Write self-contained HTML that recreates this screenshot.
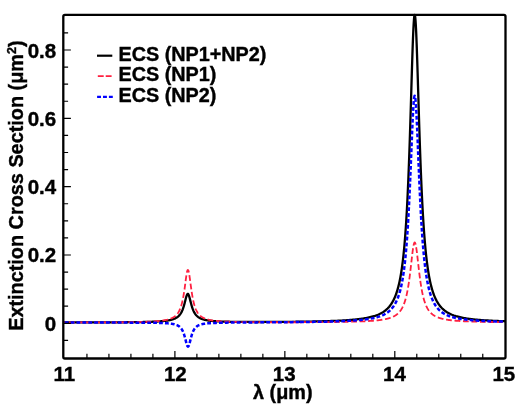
<!DOCTYPE html>
<html><head><meta charset="utf-8"><style>
html,body{margin:0;padding:0;background:#fff;width:519px;height:410px;overflow:hidden}
svg{display:block}
</style></head><body>
<svg width="519" height="410" viewBox="0 0 519 410">
<rect width="519" height="410" fill="#fff"/>
<g fill="none" stroke-linejoin="round">
<path d="M63.30,322.47 L64.30,322.47 L65.30,322.46 L66.30,322.46 L67.30,322.46 L68.30,322.46 L69.30,322.46 L70.30,322.46 L71.30,322.45 L72.30,322.45 L73.30,322.45 L74.30,322.45 L75.30,322.45 L76.30,322.45 L77.30,322.44 L78.30,322.44 L79.30,322.44 L80.30,322.44 L81.30,322.44 L82.30,322.43 L83.30,322.43 L84.30,322.43 L85.30,322.43 L86.30,322.42 L87.30,322.42 L88.30,322.42 L89.30,322.42 L90.30,322.41 L91.30,322.41 L92.30,322.41 L93.30,322.41 L94.30,322.40 L95.30,322.40 L96.30,322.40 L97.30,322.39 L98.30,322.39 L99.30,322.39 L100.30,322.38 L101.30,322.38 L102.30,322.38 L103.30,322.37 L104.30,322.37 L105.30,322.37 L106.30,322.36 L107.30,322.36 L108.30,322.35 L109.30,322.35 L110.30,322.34 L111.30,322.34 L112.30,322.33 L113.30,322.33 L114.30,322.32 L115.30,322.32 L116.30,322.31 L117.30,322.31 L118.30,322.30 L119.30,322.29 L120.30,322.29 L121.30,322.28 L122.30,322.27 L123.30,322.27 L124.30,322.26 L125.30,322.25 L126.30,322.24 L127.30,322.23 L128.30,322.22 L129.30,322.21 L130.30,322.20 L131.30,322.19 L132.30,322.18 L133.30,322.17 L134.30,322.16 L135.30,322.14 L136.30,322.13 L137.30,322.12 L138.30,322.10 L139.30,322.09 L140.30,322.07 L141.30,322.05 L142.30,322.03 L143.30,322.01 L144.30,321.99 L145.30,321.97 L146.30,321.94 L147.30,321.92 L148.30,321.89 L149.30,321.86 L150.30,321.83 L151.30,321.80 L152.30,321.76 L153.30,321.72 L154.30,321.68 L155.30,321.63 L156.30,321.58 L157.30,321.53 L158.30,321.47 L159.30,321.40 L160.30,321.33 L161.30,321.26 L162.30,321.17 L163.30,321.07 L164.30,320.97 L165.00,320.89 L165.25,320.86 L165.50,320.83 L165.75,320.80 L166.00,320.76 L166.25,320.73 L166.50,320.70 L166.75,320.66 L167.00,320.62 L167.25,320.58 L167.50,320.55 L167.75,320.51 L168.00,320.46 L168.25,320.42 L168.50,320.38 L168.75,320.33 L169.00,320.28 L169.25,320.24 L169.50,320.19 L169.75,320.13 L170.00,320.08 L170.25,320.02 L170.50,319.97 L170.75,319.91 L171.00,319.85 L171.25,319.78 L171.50,319.72 L171.75,319.65 L172.00,319.58 L172.25,319.50 L172.50,319.43 L172.75,319.35 L173.00,319.27 L173.25,319.18 L173.50,319.09 L173.75,319.00 L174.00,318.90 L174.25,318.80 L174.50,318.70 L174.75,318.59 L175.00,318.47 L175.25,318.36 L175.50,318.23 L175.75,318.10 L176.00,317.96 L176.25,317.82 L176.50,317.67 L176.75,317.51 L177.00,317.35 L177.25,317.18 L177.50,316.99 L177.75,316.80 L178.00,316.60 L178.25,316.39 L178.50,316.16 L178.75,315.92 L179.00,315.67 L179.25,315.40 L179.50,315.12 L179.75,314.82 L180.00,314.50 L180.25,314.17 L180.50,313.81 L180.75,313.42 L181.00,313.02 L181.25,312.58 L181.50,312.12 L181.75,311.63 L182.00,311.11 L182.25,310.55 L182.50,309.95 L182.75,309.32 L183.00,308.64 L183.25,307.92 L183.50,307.16 L183.75,306.36 L184.00,305.51 L184.25,304.62 L184.50,303.70 L184.75,302.74 L185.00,301.76 L185.25,300.76 L185.50,299.76 L185.75,298.78 L186.00,297.82 L186.25,296.92 L186.50,296.09 L186.75,295.37 L187.00,294.77 L187.25,294.31 L187.50,294.01 L187.75,293.89 L187.80,293.88 L188.00,293.94 L188.25,294.17 L188.50,294.56 L188.75,295.11 L189.00,295.79 L189.25,296.57 L189.50,297.45 L189.75,298.38 L190.00,299.36 L190.25,300.35 L190.50,301.35 L190.75,302.34 L191.00,303.31 L191.25,304.25 L191.50,305.15 L191.75,306.01 L192.00,306.83 L192.25,307.61 L192.50,308.34 L192.75,309.03 L193.00,309.68 L193.25,310.29 L193.50,310.87 L193.75,311.40 L194.00,311.91 L194.25,312.38 L194.50,312.82 L194.75,313.24 L195.00,313.63 L195.25,314.00 L195.50,314.34 L195.75,314.67 L196.00,314.97 L196.25,315.26 L196.50,315.53 L196.75,315.79 L197.00,316.03 L197.25,316.26 L197.50,316.48 L197.75,316.68 L198.00,316.88 L198.25,317.06 L198.50,317.24 L198.75,317.41 L199.00,317.57 L199.25,317.72 L199.50,317.86 L199.75,318.00 L200.00,318.13 L200.25,318.26 L200.50,318.38 L200.75,318.50 L201.00,318.61 L201.25,318.71 L201.50,318.81 L201.75,318.91 L202.00,319.00 L202.25,319.09 L202.50,319.18 L202.75,319.26 L203.00,319.34 L203.25,319.42 L203.50,319.49 L203.75,319.56 L204.00,319.63 L204.25,319.70 L204.50,319.76 L204.75,319.82 L205.00,319.88 L205.25,319.94 L205.50,319.99 L205.75,320.04 L206.00,320.10 L206.25,320.15 L206.50,320.19 L206.75,320.24 L207.00,320.29 L207.25,320.33 L207.50,320.37 L207.75,320.41 L208.00,320.45 L208.25,320.49 L208.50,320.53 L208.75,320.57 L209.00,320.60 L209.25,320.63 L209.50,320.67 L209.75,320.70 L210.00,320.73 L210.25,320.76 L210.50,320.79 L210.75,320.82 L211.00,320.85 L211.25,320.88 L211.50,320.90 L211.75,320.93 L212.00,320.95 L213.00,321.05 L214.00,321.13 L215.00,321.21 L216.00,321.27 L217.00,321.34 L218.00,321.39 L219.00,321.44 L220.00,321.49 L221.00,321.53 L222.00,321.57 L223.00,321.61 L224.00,321.64 L225.00,321.67 L226.00,321.70 L227.00,321.73 L228.00,321.75 L229.00,321.77 L230.00,321.79 L231.00,321.81 L232.00,321.83 L233.00,321.84 L234.00,321.86 L235.00,321.87 L236.00,321.88 L237.00,321.89 L238.00,321.91 L239.00,321.91 L240.00,321.92 L241.00,321.93 L242.00,321.94 L243.00,321.95 L244.00,321.95 L245.00,321.96 L246.00,321.96 L247.00,321.97 L248.00,321.97 L249.00,321.97 L250.00,321.98 L251.00,321.98 L252.00,321.98 L253.00,321.98 L254.00,321.98 L255.00,321.98 L256.00,321.98 L257.00,321.98 L258.00,321.98 L259.00,321.98 L260.00,321.98 L261.00,321.98 L262.00,321.98 L263.00,321.98 L264.00,321.98 L265.00,321.97 L266.00,321.97 L267.00,321.97 L268.00,321.97 L269.00,321.96 L270.00,321.96 L271.00,321.95 L272.00,321.95 L273.00,321.95 L274.00,321.94 L275.00,321.94 L276.00,321.93 L277.00,321.93 L278.00,321.92 L279.00,321.91 L280.00,321.91 L281.00,321.90 L282.00,321.89 L283.00,321.89 L284.00,321.88 L285.00,321.87 L286.00,321.86 L287.00,321.85 L288.00,321.85 L289.00,321.84 L290.00,321.83 L291.00,321.82 L292.00,321.81 L293.00,321.80 L294.00,321.79 L295.00,321.78 L296.00,321.76 L297.00,321.75 L298.00,321.74 L299.00,321.73 L300.00,321.72 L301.00,321.70 L302.00,321.69 L303.00,321.67 L304.00,321.66 L305.00,321.65 L306.00,321.63 L307.00,321.61 L308.00,321.60 L309.00,321.58 L310.00,321.56 L311.00,321.54 L312.00,321.53 L313.00,321.51 L314.00,321.49 L315.00,321.47 L316.00,321.44 L317.00,321.42 L318.00,321.40 L319.00,321.38 L320.00,321.35 L321.00,321.33 L322.00,321.30 L323.00,321.27 L324.00,321.25 L325.00,321.22 L326.00,321.19 L327.00,321.16 L328.00,321.13 L329.00,321.09 L330.00,321.06 L331.00,321.02 L332.00,320.99 L333.00,320.95 L334.00,320.91 L335.00,320.87 L336.00,320.82 L337.00,320.78 L338.00,320.73 L339.00,320.69 L340.00,320.64 L341.00,320.58 L342.00,320.53 L343.00,320.47 L344.00,320.41 L345.00,320.35 L346.00,320.29 L347.00,320.22 L348.00,320.15 L349.00,320.08 L350.00,320.00 L351.00,319.92 L352.00,319.83 L353.00,319.75 L354.00,319.65 L355.00,319.56 L356.00,319.45 L357.00,319.35 L358.00,319.23 L359.00,319.11 L360.00,318.99 L361.00,318.85 L362.00,318.71 L363.00,318.56 L364.00,318.40 L365.00,318.24 L366.00,318.06 L367.00,317.87 L368.00,317.67 L369.00,317.46 L370.00,317.23 L371.00,316.99 L372.00,316.73 L373.00,316.45 L374.00,316.15 L375.00,315.83 L376.00,315.48 L377.00,315.11 L378.00,314.71 L379.00,314.27 L380.00,313.80 L381.00,313.29 L382.00,312.73 L383.00,312.12 L384.00,311.45 L385.00,310.72 L385.20,310.56 L385.40,310.40 L385.60,310.24 L385.80,310.08 L386.00,309.91 L386.20,309.74 L386.40,309.56 L386.60,309.39 L386.80,309.20 L387.00,309.02 L387.20,308.83 L387.40,308.64 L387.60,308.44 L387.80,308.24 L388.00,308.03 L388.20,307.82 L388.40,307.61 L388.60,307.39 L388.80,307.16 L389.00,306.94 L389.20,306.70 L389.40,306.46 L389.60,306.22 L389.80,305.97 L390.00,305.71 L390.20,305.45 L390.40,305.18 L390.60,304.91 L390.80,304.63 L391.00,304.34 L391.20,304.05 L391.40,303.75 L391.60,303.44 L391.80,303.13 L392.00,302.81 L392.20,302.48 L392.40,302.14 L392.60,301.79 L392.80,301.44 L393.00,301.07 L393.20,300.70 L393.40,300.32 L393.60,299.92 L393.80,299.52 L394.00,299.11 L394.20,298.68 L394.40,298.25 L394.60,297.80 L394.80,297.34 L395.00,296.87 L395.20,296.38 L395.40,295.88 L395.60,295.37 L395.80,294.84 L396.00,294.30 L396.20,293.74 L396.40,293.17 L396.60,292.58 L396.80,291.97 L397.00,291.35 L397.20,290.70 L397.40,290.04 L397.60,289.36 L397.80,288.65 L398.00,287.93 L398.20,287.18 L398.40,286.41 L398.60,285.61 L398.80,284.79 L399.00,283.94 L399.20,283.07 L399.40,282.16 L399.60,281.23 L399.80,280.27 L400.00,279.27 L400.20,278.24 L400.40,277.17 L400.60,276.07 L400.80,274.93 L401.00,273.75 L401.20,272.53 L401.40,271.27 L401.60,269.96 L401.80,268.60 L402.00,267.20 L402.20,265.74 L402.40,264.23 L402.60,262.67 L402.80,261.04 L403.00,259.35 L403.20,257.60 L403.40,255.79 L403.60,253.90 L403.80,251.94 L404.00,249.90 L404.20,247.79 L404.40,245.59 L404.60,243.30 L404.80,240.92 L405.00,238.45 L405.20,235.88 L405.40,233.20 L405.60,230.42 L405.80,227.53 L406.00,224.51 L406.20,221.38 L406.40,218.12 L406.60,214.73 L406.80,211.20 L407.00,207.53 L407.20,203.71 L407.40,199.74 L407.60,195.62 L407.80,191.34 L408.00,186.89 L408.20,182.28 L408.40,177.49 L408.60,172.54 L408.80,167.41 L409.00,162.10 L409.20,156.63 L409.40,150.98 L409.60,145.17 L409.80,139.20 L410.00,133.07 L410.20,126.81 L410.40,120.41 L410.60,113.91 L410.80,107.31 L411.00,100.64 L411.20,93.94 L411.40,87.22 L411.60,80.53 L411.80,73.90 L412.00,67.37 L412.20,61.00 L412.40,54.83 L412.60,48.91 L412.80,43.30 L413.00,38.05 L413.20,33.21 L413.40,28.84 L413.60,24.99 L413.80,21.70 L414.00,19.02 L414.20,16.97 L414.40,15.60 L414.60,14.90 L414.70,14.82 L414.80,14.90 L415.00,15.57 L415.20,16.90 L415.40,18.88 L415.60,21.48 L415.80,24.67 L416.00,28.40 L416.20,32.64 L416.40,37.34 L416.60,42.45 L416.80,47.91 L417.00,53.68 L417.20,59.71 L417.40,65.94 L417.60,72.32 L417.80,78.82 L418.00,85.39 L418.20,92.00 L418.40,98.60 L418.60,105.17 L418.80,111.68 L419.00,118.11 L419.20,124.44 L419.40,130.66 L419.60,136.74 L419.80,142.67 L420.00,148.46 L420.20,154.09 L420.40,159.55 L420.60,164.85 L420.80,169.98 L421.00,174.94 L421.20,179.73 L421.40,184.36 L421.60,188.82 L421.80,193.13 L422.00,197.28 L422.20,201.27 L422.40,205.12 L422.60,208.82 L422.80,212.38 L423.00,215.81 L423.20,219.11 L423.40,222.28 L423.60,225.33 L423.80,228.26 L424.00,231.08 L424.20,233.79 L424.40,236.40 L424.60,238.91 L424.80,241.33 L425.00,243.65 L425.20,245.89 L425.40,248.04 L425.60,250.11 L425.80,252.11 L426.00,254.03 L426.20,255.88 L426.40,257.67 L426.60,259.39 L426.80,261.04 L427.00,262.64 L427.20,264.18 L427.40,265.67 L427.60,267.11 L427.80,268.49 L428.00,269.83 L428.20,271.12 L428.40,272.37 L428.60,273.58 L428.80,274.75 L429.00,275.87 L429.20,276.96 L429.40,278.02 L429.60,279.04 L429.80,280.03 L430.00,280.98 L430.20,281.91 L430.40,282.81 L430.60,283.68 L430.80,284.52 L431.00,285.33 L431.20,286.13 L431.40,286.89 L431.60,287.64 L431.80,288.36 L432.00,289.06 L432.20,289.74 L432.40,290.40 L432.60,291.05 L432.80,291.67 L433.00,292.28 L433.20,292.86 L433.40,293.44 L433.60,293.99 L433.80,294.54 L434.00,295.06 L434.20,295.58 L434.40,296.07 L434.60,296.56 L434.80,297.03 L435.00,297.49 L435.20,297.94 L435.40,298.38 L435.60,298.80 L435.80,299.22 L436.00,299.62 L436.20,300.02 L436.40,300.40 L436.60,300.78 L436.80,301.14 L437.00,301.50 L437.20,301.85 L437.40,302.19 L437.60,302.52 L437.80,302.84 L438.00,303.16 L438.20,303.47 L438.40,303.77 L438.60,304.07 L438.80,304.36 L439.00,304.64 L439.20,304.91 L439.40,305.18 L439.60,305.44 L439.80,305.70 L440.00,305.95 L440.20,306.20 L440.40,306.44 L440.60,306.68 L440.80,306.91 L441.00,307.13 L441.20,307.35 L441.40,307.57 L441.60,307.78 L441.80,307.99 L442.00,308.19 L442.20,308.39 L442.40,308.59 L442.60,308.78 L442.80,308.97 L443.00,309.15 L443.20,309.33 L443.40,309.51 L443.60,309.68 L443.80,309.85 L444.00,310.02 L444.20,310.18 L444.40,310.34 L444.60,310.50 L444.80,310.65 L445.00,310.80 L446.00,311.52 L447.00,312.17 L448.00,312.77 L449.00,313.32 L450.00,313.82 L451.00,314.28 L452.00,314.71 L453.00,315.11 L454.00,315.48 L455.00,315.82 L456.00,316.14 L457.00,316.43 L458.00,316.71 L459.00,316.97 L460.00,317.21 L461.00,317.44 L462.00,317.65 L463.00,317.85 L464.00,318.04 L465.00,318.22 L466.00,318.38 L467.00,318.54 L468.00,318.69 L469.00,318.83 L470.00,318.96 L471.00,319.09 L472.00,319.21 L473.00,319.33 L474.00,319.43 L475.00,319.54 L476.00,319.64 L477.00,319.73 L478.00,319.82 L479.00,319.90 L480.00,319.99 L481.00,320.06 L482.00,320.14 L483.00,320.21 L484.00,320.28 L485.00,320.34 L486.00,320.41 L487.00,320.47 L488.00,320.52 L489.00,320.58 L490.00,320.63 L491.00,320.68 L492.00,320.73 L493.00,320.78 L494.00,320.83 L495.00,320.87 L496.00,320.91 L497.00,320.95 L498.00,320.99 L499.00,321.03 L500.00,321.07 L501.00,321.10 L502.00,321.14 L503.00,321.17 L504.00,321.20 L505.00,321.23 L505.50,321.25" stroke="#000" stroke-width="2.3"/>
<path d="M63.30,322.50 L64.30,322.50 L65.30,322.49 L66.30,322.49 L67.30,322.49 L68.30,322.49 L69.30,322.49 L70.30,322.49 L71.30,322.48 L72.30,322.48 L73.30,322.48 L74.30,322.48 L75.30,322.48 L76.30,322.47 L77.30,322.47 L78.30,322.47 L79.30,322.47 L80.30,322.46 L81.30,322.46 L82.30,322.46 L83.30,322.46 L84.30,322.45 L85.30,322.45 L86.30,322.45 L87.30,322.45 L88.30,322.44 L89.30,322.44 L90.30,322.44 L91.30,322.43 L92.30,322.43 L93.30,322.43 L94.30,322.42 L95.30,322.42 L96.30,322.42 L97.30,322.41 L98.30,322.41 L99.30,322.40 L100.30,322.40 L101.30,322.40 L102.30,322.39 L103.30,322.39 L104.30,322.38 L105.30,322.38 L106.30,322.37 L107.30,322.37 L108.30,322.36 L109.30,322.36 L110.30,322.35 L111.30,322.34 L112.30,322.34 L113.30,322.33 L114.30,322.32 L115.30,322.32 L116.30,322.31 L117.30,322.30 L118.30,322.29 L119.30,322.28 L120.30,322.28 L121.30,322.27 L122.30,322.26 L123.30,322.25 L124.30,322.24 L125.30,322.22 L126.30,322.21 L127.30,322.20 L128.30,322.19 L129.30,322.18 L130.30,322.16 L131.30,322.15 L132.30,322.13 L133.30,322.12 L134.30,322.10 L135.30,322.08 L136.30,322.06 L137.30,322.04 L138.30,322.02 L139.30,322.00 L140.30,321.97 L141.30,321.95 L142.30,321.92 L143.30,321.89 L144.30,321.86 L145.30,321.83 L146.30,321.79 L147.30,321.76 L148.30,321.72 L149.30,321.67 L150.30,321.63 L151.30,321.58 L152.30,321.52 L153.30,321.47 L154.30,321.40 L155.30,321.33 L156.30,321.26 L157.30,321.18 L158.30,321.09 L159.30,320.99 L160.30,320.88 L161.30,320.76 L162.30,320.63 L163.30,320.48 L164.30,320.32 L165.00,320.19 L165.25,320.14 L165.50,320.10 L165.75,320.05 L166.00,319.99 L166.25,319.94 L166.50,319.88 L166.75,319.83 L167.00,319.77 L167.25,319.71 L167.50,319.64 L167.75,319.58 L168.00,319.51 L168.25,319.44 L168.50,319.37 L168.75,319.30 L169.00,319.22 L169.25,319.14 L169.50,319.06 L169.75,318.98 L170.00,318.89 L170.25,318.80 L170.50,318.70 L170.75,318.61 L171.00,318.51 L171.25,318.40 L171.50,318.29 L171.75,318.18 L172.00,318.06 L172.25,317.94 L172.50,317.81 L172.75,317.68 L173.00,317.54 L173.25,317.39 L173.50,317.24 L173.75,317.09 L174.00,316.92 L174.25,316.75 L174.50,316.57 L174.75,316.38 L175.00,316.19 L175.25,315.98 L175.50,315.77 L175.75,315.54 L176.00,315.30 L176.25,315.06 L176.50,314.79 L176.75,314.52 L177.00,314.23 L177.25,313.92 L177.50,313.60 L177.75,313.26 L178.00,312.90 L178.25,312.53 L178.50,312.12 L178.75,311.70 L179.00,311.25 L179.25,310.77 L179.50,310.27 L179.75,309.73 L180.00,309.15 L180.25,308.54 L180.50,307.90 L180.75,307.20 L181.00,306.47 L181.25,305.68 L181.50,304.84 L181.75,303.94 L182.00,302.98 L182.25,301.96 L182.50,300.86 L182.75,299.70 L183.00,298.46 L183.25,297.13 L183.50,295.73 L183.75,294.24 L184.00,292.68 L184.25,291.03 L184.50,289.30 L184.75,287.51 L185.00,285.66 L185.25,283.78 L185.50,281.88 L185.75,279.99 L186.00,278.14 L186.25,276.38 L186.50,274.75 L186.75,273.29 L187.00,272.04 L187.25,271.06 L187.50,270.37 L187.75,270.00 L187.80,269.97 L188.00,269.96 L188.25,270.27 L188.50,270.90 L188.75,271.82 L189.00,273.02 L189.25,274.44 L189.50,276.04 L189.75,277.78 L190.00,279.61 L190.25,281.49 L190.50,283.39 L190.75,285.28 L191.00,287.14 L191.25,288.94 L191.50,290.68 L191.75,292.35 L192.00,293.93 L192.25,295.44 L192.50,296.85 L192.75,298.19 L193.00,299.45 L193.25,300.63 L193.50,301.74 L193.75,302.77 L194.00,303.74 L194.25,304.65 L194.50,305.51 L194.75,306.30 L195.00,307.05 L195.25,307.75 L195.50,308.41 L195.75,309.03 L196.00,309.61 L196.25,310.15 L196.50,310.66 L196.75,311.15 L197.00,311.60 L197.25,312.03 L197.50,312.44 L197.75,312.82 L198.00,313.18 L198.25,313.52 L198.50,313.85 L198.75,314.16 L199.00,314.45 L199.25,314.73 L199.50,314.99 L199.75,315.24 L200.00,315.48 L200.25,315.71 L200.50,315.92 L200.75,316.13 L201.00,316.33 L201.25,316.52 L201.50,316.70 L201.75,316.87 L202.00,317.04 L202.25,317.19 L202.50,317.34 L202.75,317.49 L203.00,317.63 L203.25,317.76 L203.50,317.89 L203.75,318.01 L204.00,318.13 L204.25,318.25 L204.50,318.36 L204.75,318.46 L205.00,318.57 L205.25,318.66 L205.50,318.76 L205.75,318.85 L206.00,318.94 L206.25,319.02 L206.50,319.10 L206.75,319.18 L207.00,319.26 L207.25,319.33 L207.50,319.40 L207.75,319.47 L208.00,319.54 L208.25,319.61 L208.50,319.67 L208.75,319.73 L209.00,319.79 L209.25,319.85 L209.50,319.90 L209.75,319.95 L210.00,320.01 L210.25,320.06 L210.50,320.11 L210.75,320.15 L211.00,320.20 L211.25,320.24 L211.50,320.29 L211.75,320.33 L212.00,320.37 L213.00,320.53 L214.00,320.66 L215.00,320.79 L216.00,320.90 L217.00,321.00 L218.00,321.09 L219.00,321.18 L220.00,321.25 L221.00,321.32 L222.00,321.39 L223.00,321.45 L224.00,321.50 L225.00,321.55 L226.00,321.60 L227.00,321.64 L228.00,321.68 L229.00,321.72 L230.00,321.76 L231.00,321.79 L232.00,321.82 L233.00,321.85 L234.00,321.87 L235.00,321.90 L236.00,321.92 L237.00,321.94 L238.00,321.96 L239.00,321.98 L240.00,322.00 L241.00,322.01 L242.00,322.03 L243.00,322.05 L244.00,322.06 L245.00,322.07 L246.00,322.08 L247.00,322.10 L248.00,322.11 L249.00,322.12 L250.00,322.13 L251.00,322.14 L252.00,322.15 L253.00,322.15 L254.00,322.16 L255.00,322.17 L256.00,322.18 L257.00,322.18 L258.00,322.19 L259.00,322.19 L260.00,322.20 L261.00,322.20 L262.00,322.21 L263.00,322.21 L264.00,322.22 L265.00,322.22 L266.00,322.23 L267.00,322.23 L268.00,322.23 L269.00,322.23 L270.00,322.24 L271.00,322.24 L272.00,322.24 L273.00,322.24 L274.00,322.25 L275.00,322.25 L276.00,322.25 L277.00,322.25 L278.00,322.25 L279.00,322.25 L280.00,322.25 L281.00,322.25 L282.00,322.25 L283.00,322.25 L284.00,322.25 L285.00,322.25 L286.00,322.25 L287.00,322.25 L288.00,322.25 L289.00,322.25 L290.00,322.25 L291.00,322.25 L292.00,322.25 L293.00,322.25 L294.00,322.24 L295.00,322.24 L296.00,322.24 L297.00,322.24 L298.00,322.24 L299.00,322.23 L300.00,322.23" stroke="#ff2040" stroke-width="1.8" stroke-dasharray="5.8 2.7" stroke-dashoffset="2.90"/>
<path d="M300.00,322.23 L301.00,322.23 L302.00,322.22 L303.00,322.22 L304.00,322.22 L305.00,322.21 L306.00,322.21 L307.00,322.21 L308.00,322.20 L309.00,322.20 L310.00,322.19 L311.00,322.19 L312.00,322.18 L313.00,322.18 L314.00,322.17 L315.00,322.17 L316.00,322.16 L317.00,322.16 L318.00,322.15 L319.00,322.14 L320.00,322.14 L321.00,322.13 L322.00,322.12 L323.00,322.12 L324.00,322.11 L325.00,322.10 L326.00,322.09 L327.00,322.08 L328.00,322.07 L329.00,322.06 L330.00,322.05 L331.00,322.04 L332.00,322.03 L333.00,322.02 L334.00,322.01 L335.00,322.00 L336.00,321.98 L337.00,321.97 L338.00,321.96 L339.00,321.94 L340.00,321.93 L341.00,321.91 L342.00,321.90 L343.00,321.88 L344.00,321.86 L345.00,321.85 L346.00,321.83 L347.00,321.81 L348.00,321.79 L349.00,321.76 L350.00,321.74 L351.00,321.72 L352.00,321.69 L353.00,321.67 L354.00,321.64 L355.00,321.61 L356.00,321.58 L357.00,321.55 L358.00,321.52 L359.00,321.49 L360.00,321.45 L361.00,321.41 L362.00,321.37 L363.00,321.33 L364.00,321.28 L365.00,321.24 L366.00,321.19 L367.00,321.13 L368.00,321.08 L369.00,321.02 L370.00,320.96 L371.00,320.89 L372.00,320.82 L373.00,320.74 L374.00,320.66 L375.00,320.57 L376.00,320.48 L377.00,320.38 L378.00,320.27 L379.00,320.16 L380.00,320.03 L381.00,319.90 L382.00,319.75 L383.00,319.59 L384.00,319.41 L385.00,319.22 L385.20,319.18 L385.40,319.14 L385.60,319.10 L385.80,319.06 L386.00,319.01 L386.20,318.97 L386.40,318.92 L386.60,318.88 L386.80,318.83 L387.00,318.78 L387.20,318.74 L387.40,318.69 L387.60,318.64 L387.80,318.58 L388.00,318.53 L388.20,318.48 L388.40,318.42 L388.60,318.37 L388.80,318.31 L389.00,318.25 L389.20,318.19 L389.40,318.13 L389.60,318.07 L389.80,318.00 L390.00,317.94 L390.20,317.87 L390.40,317.80 L390.60,317.73 L390.80,317.66 L391.00,317.59 L391.20,317.52 L391.40,317.44 L391.60,317.36 L391.80,317.28 L392.00,317.20 L392.20,317.12 L392.40,317.03 L392.60,316.94 L392.80,316.85 L393.00,316.76 L393.20,316.67 L393.40,316.57 L393.60,316.47 L393.80,316.37 L394.00,316.26 L394.20,316.16 L394.40,316.05 L394.60,315.93 L394.80,315.82 L395.00,315.70 L395.20,315.58 L395.40,315.45 L395.60,315.32 L395.80,315.19 L396.00,315.05 L396.20,314.91 L396.40,314.77 L396.60,314.62 L396.80,314.47 L397.00,314.31 L397.20,314.15 L397.40,313.98 L397.60,313.81 L397.80,313.64 L398.00,313.45 L398.20,313.27 L398.40,313.07 L398.60,312.87 L398.80,312.67 L399.00,312.46 L399.20,312.24 L399.40,312.01 L399.60,311.78 L399.80,311.54 L400.00,311.29 L400.20,311.03 L400.40,310.76 L400.60,310.48 L400.80,310.20 L401.00,309.90 L401.20,309.60 L401.40,309.28 L401.60,308.95 L401.80,308.61 L402.00,308.26 L402.20,307.89 L402.40,307.52 L402.60,307.12 L402.80,306.71 L403.00,306.29 L403.20,305.85 L403.40,305.39 L403.60,304.92 L403.80,304.43 L404.00,303.91 L404.20,303.38 L404.40,302.83 L404.60,302.25 L404.80,301.65 L405.00,301.03 L405.20,300.38 L405.40,299.70 L405.60,298.99 L405.80,298.26 L406.00,297.50 L406.20,296.70 L406.40,295.87 L406.60,295.01 L406.80,294.11 L407.00,293.18 L407.20,292.21 L407.40,291.19 L407.60,290.14 L407.80,289.04 L408.00,287.90 L408.20,286.72 L408.40,285.49 L408.60,284.21 L408.80,282.89 L409.00,281.52 L409.20,280.10 L409.40,278.64 L409.60,277.13 L409.80,275.57 L410.00,273.97 L410.20,272.34 L410.40,270.66 L410.60,268.95 L410.80,267.22 L411.00,265.46 L411.20,263.69 L411.40,261.91 L411.60,260.14 L411.80,258.37 L412.00,256.63 L412.20,254.93 L412.40,253.28 L412.60,251.69 L412.80,250.18 L413.00,248.77 L413.20,247.46 L413.40,246.28 L413.60,245.24 L413.80,244.35 L414.00,243.63 L414.20,243.07 L414.40,242.70 L414.60,242.51 L414.70,242.48 L414.80,242.51 L415.00,242.70 L415.20,243.07 L415.40,243.63 L415.60,244.35 L415.80,245.24 L416.00,246.28 L416.20,247.47 L416.40,248.77 L416.60,250.18 L416.80,251.69 L417.00,253.28 L417.20,254.93 L417.40,256.63 L417.60,258.37 L417.80,260.14 L418.00,261.91 L418.20,263.69 L418.40,265.46 L418.60,267.22 L418.80,268.96 L419.00,270.66 L419.20,272.34 L419.40,273.98 L419.60,275.57 L419.80,277.13 L420.00,278.64 L420.20,280.10 L420.40,281.52 L420.60,282.89 L420.80,284.21 L421.00,285.49 L421.20,286.72 L421.40,287.90 L421.60,289.04 L421.80,290.14 L422.00,291.20 L422.20,292.21 L422.40,293.18 L422.60,294.12 L422.80,295.02 L423.00,295.88 L423.20,296.71 L423.40,297.50 L423.60,298.27 L423.80,299.00 L424.00,299.70 L424.20,300.38 L424.40,301.03 L424.60,301.65 L424.80,302.25 L425.00,302.83 L425.20,303.39 L425.40,303.92 L425.60,304.43 L425.80,304.92 L426.00,305.40 L426.20,305.86 L426.40,306.30 L426.60,306.72 L426.80,307.13 L427.00,307.52 L427.20,307.90 L427.40,308.27 L427.60,308.62 L427.80,308.96 L428.00,309.29 L428.20,309.60 L428.40,309.91 L428.60,310.21 L428.80,310.49 L429.00,310.77 L429.20,311.03 L429.40,311.29 L429.60,311.54 L429.80,311.78 L430.00,312.02 L430.20,312.24 L430.40,312.46 L430.60,312.68 L430.80,312.88 L431.00,313.08 L431.20,313.28 L431.40,313.46 L431.60,313.64 L431.80,313.82 L432.00,313.99 L432.20,314.16 L432.40,314.32 L432.60,314.48 L432.80,314.63 L433.00,314.78 L433.20,314.92 L433.40,315.06 L433.60,315.20 L433.80,315.33 L434.00,315.46 L434.20,315.59 L434.40,315.71 L434.60,315.83 L434.80,315.94 L435.00,316.06 L435.20,316.17 L435.40,316.27 L435.60,316.38 L435.80,316.48 L436.00,316.58 L436.20,316.68 L436.40,316.77 L436.60,316.86 L436.80,316.95 L437.00,317.04 L437.20,317.13 L437.40,317.21 L437.60,317.29 L437.80,317.37 L438.00,317.45 L438.20,317.53 L438.40,317.60 L438.60,317.67 L438.80,317.75 L439.00,317.82 L439.20,317.88 L439.40,317.95 L439.60,318.02 L439.80,318.08 L440.00,318.14 L440.20,318.20 L440.40,318.26 L440.60,318.32 L440.80,318.38 L441.00,318.43 L441.20,318.49 L441.40,318.54 L441.60,318.60 L441.80,318.65 L442.00,318.70 L442.20,318.75 L442.40,318.80 L442.60,318.85 L442.80,318.89 L443.00,318.94 L443.20,318.98 L443.40,319.03 L443.60,319.07 L443.80,319.11 L444.00,319.16 L444.20,319.20 L444.40,319.24 L444.60,319.28 L444.80,319.32 L445.00,319.35 L446.00,319.54 L447.00,319.70 L448.00,319.85 L449.00,319.99 L450.00,320.12 L451.00,320.25 L452.00,320.36 L453.00,320.46 L454.00,320.56 L455.00,320.65 L456.00,320.73 L457.00,320.81 L458.00,320.88 L459.00,320.95 L460.00,321.02 L461.00,321.08 L462.00,321.14 L463.00,321.19 L464.00,321.24 L465.00,321.29 L466.00,321.34 L467.00,321.38 L468.00,321.42 L469.00,321.46 L470.00,321.50 L471.00,321.54 L472.00,321.57 L473.00,321.60 L474.00,321.63 L475.00,321.66 L476.00,321.69 L477.00,321.72 L478.00,321.74 L479.00,321.77 L480.00,321.79 L481.00,321.82 L482.00,321.84 L483.00,321.86 L484.00,321.88 L485.00,321.90 L486.00,321.92 L487.00,321.93 L488.00,321.95 L489.00,321.97 L490.00,321.98 L491.00,322.00 L492.00,322.01 L493.00,322.03 L494.00,322.04 L495.00,322.05 L496.00,322.07 L497.00,322.08 L498.00,322.09 L499.00,322.10 L500.00,322.11 L501.00,322.12 L502.00,322.14 L503.00,322.15 L504.00,322.16 L505.00,322.16 L505.50,322.17" stroke="#ff2040" stroke-width="1.8" stroke-dasharray="5.8 2.7" stroke-dashoffset="8.37"/>
<path d="M63.30,322.58 L64.30,322.58 L65.30,322.58 L66.30,322.58 L67.30,322.58 L68.30,322.58 L69.30,322.58 L70.30,322.58 L71.30,322.58 L72.30,322.58 L73.30,322.58 L74.30,322.58 L75.30,322.58 L76.30,322.58 L77.30,322.58 L78.30,322.58 L79.30,322.58 L80.30,322.58 L81.30,322.58 L82.30,322.58 L83.30,322.58 L84.30,322.58 L85.30,322.58 L86.30,322.58 L87.30,322.58 L88.30,322.58 L89.30,322.58 L90.30,322.58 L91.30,322.58 L92.30,322.58 L93.30,322.58 L94.30,322.58 L95.30,322.58 L96.30,322.58 L97.30,322.58 L98.30,322.58 L99.30,322.58 L100.30,322.58 L101.30,322.59 L102.30,322.59 L103.30,322.59 L104.30,322.59 L105.30,322.59 L106.30,322.59 L107.30,322.59 L108.30,322.59 L109.30,322.59 L110.30,322.59 L111.30,322.59 L112.30,322.59 L113.30,322.60 L114.30,322.60 L115.30,322.60 L116.30,322.60 L117.30,322.60 L118.30,322.60 L119.30,322.60 L120.30,322.61 L121.30,322.61 L122.30,322.61 L123.30,322.61 L124.30,322.61 L125.30,322.62 L126.30,322.62 L127.30,322.62 L128.30,322.62 L129.30,322.63 L130.30,322.63 L131.30,322.63 L132.30,322.64 L133.30,322.64 L134.30,322.64 L135.30,322.65 L136.30,322.65 L137.30,322.66 L138.30,322.66 L139.30,322.67 L140.30,322.67 L141.30,322.68 L142.30,322.69 L143.30,322.69 L144.30,322.70 L145.30,322.71 L146.30,322.72 L147.30,322.73 L148.30,322.74 L149.30,322.75 L150.30,322.76 L151.30,322.77 L152.30,322.79 L153.30,322.80 L154.30,322.82 L155.30,322.84 L156.30,322.86 L157.30,322.88 L158.30,322.91 L159.30,322.93 L160.30,322.96 L161.30,323.00 L162.30,323.04 L163.30,323.08 L164.30,323.13 L165.00,323.17 L165.25,323.18 L165.50,323.20 L165.75,323.21 L166.00,323.23 L166.25,323.24 L166.50,323.26 L166.75,323.28 L167.00,323.29 L167.25,323.31 L167.50,323.33 L167.75,323.35 L168.00,323.37 L168.25,323.39 L168.50,323.42 L168.75,323.44 L169.00,323.46 L169.25,323.49 L169.50,323.51 L169.75,323.54 L170.00,323.57 L170.25,323.60 L170.50,323.63 L170.75,323.66 L171.00,323.69 L171.25,323.73 L171.50,323.76 L171.75,323.80 L172.00,323.84 L172.25,323.88 L172.50,323.92 L172.75,323.97 L173.00,324.01 L173.25,324.06 L173.50,324.11 L173.75,324.17 L174.00,324.22 L174.25,324.28 L174.50,324.34 L174.75,324.41 L175.00,324.48 L175.25,324.55 L175.50,324.62 L175.75,324.70 L176.00,324.79 L176.25,324.88 L176.50,324.97 L176.75,325.07 L177.00,325.18 L177.25,325.29 L177.50,325.41 L177.75,325.53 L178.00,325.67 L178.25,325.81 L178.50,325.96 L178.75,326.13 L179.00,326.30 L179.25,326.48 L179.50,326.68 L179.75,326.89 L180.00,327.12 L180.25,327.36 L180.50,327.62 L180.75,327.90 L181.00,328.20 L181.25,328.53 L181.50,328.87 L181.75,329.25 L182.00,329.65 L182.25,330.09 L182.50,330.56 L182.75,331.07 L183.00,331.62 L183.25,332.21 L183.50,332.84 L183.75,333.52 L184.00,334.26 L184.25,335.03 L184.50,335.86 L184.75,336.74 L185.00,337.66 L185.25,338.62 L185.50,339.61 L185.75,340.61 L186.00,341.62 L186.25,342.60 L186.50,343.53 L186.75,344.40 L187.00,345.16 L187.25,345.79 L187.50,346.26 L187.75,346.55 L187.80,346.59 L188.00,346.65 L188.25,346.55 L188.50,346.26 L188.75,345.79 L189.00,345.16 L189.25,344.39 L189.50,343.53 L189.75,342.59 L190.00,341.61 L190.25,340.61 L190.50,339.60 L190.75,338.61 L191.00,337.65 L191.25,336.73 L191.50,335.85 L191.75,335.02 L192.00,334.24 L192.25,333.51 L192.50,332.83 L192.75,332.20 L193.00,331.60 L193.25,331.06 L193.50,330.55 L193.75,330.08 L194.00,329.64 L194.25,329.23 L194.50,328.86 L194.75,328.51 L195.00,328.18 L195.25,327.88 L195.50,327.60 L195.75,327.34 L196.00,327.10 L196.25,326.87 L196.50,326.66 L196.75,326.46 L197.00,326.27 L197.25,326.10 L197.50,325.94 L197.75,325.79 L198.00,325.64 L198.25,325.51 L198.50,325.38 L198.75,325.26 L199.00,325.15 L199.25,325.04 L199.50,324.94 L199.75,324.85 L200.00,324.76 L200.25,324.67 L200.50,324.59 L200.75,324.51 L201.00,324.44 L201.25,324.37 L201.50,324.31 L201.75,324.24 L202.00,324.18 L202.25,324.13 L202.50,324.07 L202.75,324.02 L203.00,323.97 L203.25,323.93 L203.50,323.88 L203.75,323.84 L204.00,323.80 L204.25,323.76 L204.50,323.72 L204.75,323.68 L205.00,323.65 L205.25,323.61 L205.50,323.58 L205.75,323.55 L206.00,323.52 L206.25,323.49 L206.50,323.46 L206.75,323.44 L207.00,323.41 L207.25,323.39 L207.50,323.36 L207.75,323.34 L208.00,323.32 L208.25,323.30 L208.50,323.28 L208.75,323.26 L209.00,323.24 L209.25,323.22 L209.50,323.20 L209.75,323.18 L210.00,323.17 L210.25,323.15 L210.50,323.13 L210.75,323.12 L211.00,323.10 L211.25,323.09 L211.50,323.07 L211.75,323.06 L212.00,323.05 L213.00,323.00 L214.00,322.95 L215.00,322.91 L216.00,322.88 L217.00,322.84 L218.00,322.81 L219.00,322.79 L220.00,322.76 L221.00,322.74 L222.00,322.72 L223.00,322.70 L224.00,322.68 L225.00,322.66 L226.00,322.65 L227.00,322.63 L228.00,322.62 L229.00,322.60 L230.00,322.59 L231.00,322.58 L232.00,322.57 L233.00,322.56 L234.00,322.55 L235.00,322.54 L236.00,322.53 L237.00,322.52 L238.00,322.51 L239.00,322.50 L240.00,322.49 L241.00,322.49 L242.00,322.48 L243.00,322.47 L244.00,322.46 L245.00,322.46 L246.00,322.45 L247.00,322.44 L248.00,322.43 L249.00,322.43 L250.00,322.42 L251.00,322.41 L252.00,322.41 L253.00,322.40 L254.00,322.40 L255.00,322.39 L256.00,322.38 L257.00,322.38 L258.00,322.37 L259.00,322.36 L260.00,322.36 L261.00,322.35 L262.00,322.35 L263.00,322.34 L264.00,322.33 L265.00,322.33 L266.00,322.32 L267.00,322.31 L268.00,322.31 L269.00,322.30 L270.00,322.29 L271.00,322.29 L272.00,322.28 L273.00,322.28 L274.00,322.27 L275.00,322.26 L276.00,322.25 L277.00,322.25 L278.00,322.24 L279.00,322.23 L280.00,322.23 L281.00,322.22 L282.00,322.21 L283.00,322.20 L284.00,322.20 L285.00,322.19 L286.00,322.18 L287.00,322.17 L288.00,322.16 L289.00,322.15 L290.00,322.15 L291.00,322.14 L292.00,322.13 L293.00,322.12 L294.00,322.11 L295.00,322.10 L296.00,322.09 L297.00,322.08 L298.00,322.07 L299.00,322.06 L300.00,322.05" stroke="#0000ff" stroke-width="2.5" stroke-dasharray="3.8 2.1" stroke-dashoffset="4.53"/>
<path d="M300.00,322.05 L301.00,322.04 L302.00,322.03 L303.00,322.01 L304.00,322.00 L305.00,321.99 L306.00,321.98 L307.00,321.96 L308.00,321.95 L309.00,321.94 L310.00,321.92 L311.00,321.91 L312.00,321.89 L313.00,321.88 L314.00,321.86 L315.00,321.85 L316.00,321.83 L317.00,321.81 L318.00,321.80 L319.00,321.78 L320.00,321.76 L321.00,321.74 L322.00,321.72 L323.00,321.70 L324.00,321.68 L325.00,321.66 L326.00,321.64 L327.00,321.61 L328.00,321.59 L329.00,321.57 L330.00,321.54 L331.00,321.51 L332.00,321.49 L333.00,321.46 L334.00,321.43 L335.00,321.40 L336.00,321.37 L337.00,321.33 L338.00,321.30 L339.00,321.26 L340.00,321.23 L341.00,321.19 L342.00,321.15 L343.00,321.11 L344.00,321.06 L345.00,321.02 L346.00,320.97 L347.00,320.92 L348.00,320.87 L349.00,320.82 L350.00,320.76 L351.00,320.70 L352.00,320.64 L353.00,320.58 L354.00,320.51 L355.00,320.44 L356.00,320.36 L357.00,320.28 L358.00,320.20 L359.00,320.11 L360.00,320.02 L361.00,319.92 L362.00,319.82 L363.00,319.71 L364.00,319.60 L365.00,319.48 L366.00,319.35 L367.00,319.21 L368.00,319.06 L369.00,318.91 L370.00,318.74 L371.00,318.57 L372.00,318.38 L373.00,318.18 L374.00,317.96 L375.00,317.73 L376.00,317.48 L377.00,317.20 L378.00,316.91 L379.00,316.60 L380.00,316.25 L381.00,315.88 L382.00,315.48 L383.00,315.03 L384.00,314.55 L385.00,314.01 L385.20,313.90 L385.40,313.79 L385.60,313.67 L385.80,313.55 L386.00,313.43 L386.20,313.30 L386.40,313.18 L386.60,313.05 L386.80,312.92 L387.00,312.78 L387.20,312.64 L387.40,312.50 L387.60,312.36 L387.80,312.22 L388.00,312.07 L388.20,311.91 L388.40,311.76 L388.60,311.60 L388.80,311.44 L389.00,311.27 L389.20,311.10 L389.40,310.93 L389.60,310.75 L389.80,310.57 L390.00,310.38 L390.20,310.19 L390.40,310.00 L390.60,309.80 L390.80,309.60 L391.00,309.39 L391.20,309.18 L391.40,308.96 L391.60,308.74 L391.80,308.51 L392.00,308.27 L392.20,308.03 L392.40,307.79 L392.60,307.54 L392.80,307.28 L393.00,307.01 L393.20,306.74 L393.40,306.46 L393.60,306.18 L393.80,305.88 L394.00,305.58 L394.20,305.27 L394.40,304.96 L394.60,304.63 L394.80,304.30 L395.00,303.96 L395.20,303.60 L395.40,303.24 L395.60,302.87 L395.80,302.48 L396.00,302.09 L396.20,301.69 L396.40,301.27 L396.60,300.84 L396.80,300.40 L397.00,299.94 L397.20,299.47 L397.40,298.99 L397.60,298.50 L397.80,297.98 L398.00,297.46 L398.20,296.91 L398.40,296.35 L398.60,295.77 L398.80,295.17 L399.00,294.56 L399.20,293.92 L399.40,293.26 L399.60,292.58 L399.80,291.88 L400.00,291.16 L400.20,290.41 L400.40,289.63 L400.60,288.83 L400.80,288.00 L401.00,287.14 L401.20,286.25 L401.40,285.33 L401.60,284.37 L401.80,283.39 L402.00,282.36 L402.20,281.30 L402.40,280.20 L402.60,279.06 L402.80,277.87 L403.00,276.64 L403.20,275.36 L403.40,274.04 L403.60,272.66 L403.80,271.23 L404.00,269.74 L404.20,268.19 L404.40,266.59 L404.60,264.92 L404.80,263.18 L405.00,261.37 L405.20,259.49 L405.40,257.53 L405.60,255.50 L405.80,253.38 L406.00,251.17 L406.20,248.87 L406.40,246.48 L406.60,244.00 L406.80,241.41 L407.00,238.72 L407.20,235.92 L407.40,233.00 L407.60,229.97 L407.80,226.83 L408.00,223.56 L408.20,220.16 L408.40,216.64 L408.60,212.99 L408.80,209.21 L409.00,205.30 L409.20,201.26 L409.40,197.10 L409.60,192.80 L409.80,188.39 L410.00,183.86 L410.20,179.22 L410.40,174.49 L410.60,169.67 L410.80,164.77 L411.00,159.83 L411.20,154.85 L411.40,149.85 L411.60,144.87 L411.80,139.94 L412.00,135.08 L412.20,130.33 L412.40,125.72 L412.60,121.31 L412.80,117.11 L413.00,113.19 L413.20,109.57 L413.40,106.30 L413.60,103.42 L413.80,100.96 L414.00,98.95 L414.20,97.42 L414.40,96.39 L414.60,95.87 L414.70,95.80 L414.80,95.87 L415.00,96.38 L415.20,97.39 L415.40,98.90 L415.60,100.88 L415.80,103.30 L416.00,106.14 L416.20,109.36 L416.40,112.92 L416.60,116.79 L416.80,120.93 L417.00,125.29 L417.20,129.84 L417.40,134.53 L417.60,139.34 L417.80,144.23 L418.00,149.16 L418.20,154.11 L418.40,159.05 L418.60,163.97 L418.80,168.83 L419.00,173.62 L419.20,178.33 L419.40,182.95 L419.60,187.47 L419.80,191.87 L420.00,196.15 L420.20,200.31 L420.40,204.35 L420.60,208.26 L420.80,212.04 L421.00,215.69 L421.20,219.21 L421.40,222.61 L421.60,225.89 L421.80,229.05 L422.00,232.09 L422.20,235.01 L422.40,237.82 L422.60,240.53 L422.80,243.13 L423.00,245.63 L423.20,248.03 L423.40,250.34 L423.60,252.56 L423.80,254.69 L424.00,256.75 L424.20,258.72 L424.40,260.61 L424.60,262.43 L424.80,264.19 L425.00,265.87 L425.20,267.49 L425.40,269.05 L425.60,270.55 L425.80,272.00 L426.00,273.39 L426.20,274.73 L426.40,276.02 L426.60,277.26 L426.80,278.46 L427.00,279.61 L427.20,280.72 L427.40,281.80 L427.60,282.83 L427.80,283.83 L428.00,284.80 L428.20,285.73 L428.40,286.63 L428.60,287.50 L428.80,288.34 L429.00,289.15 L429.20,289.93 L429.40,290.69 L429.60,291.43 L429.80,292.14 L430.00,292.83 L430.20,293.49 L430.40,294.14 L430.60,294.76 L430.80,295.37 L431.00,295.95 L431.20,296.52 L431.40,297.07 L431.60,297.61 L431.80,298.13 L432.00,298.63 L432.20,299.12 L432.40,299.59 L432.60,300.05 L432.80,300.50 L433.00,300.94 L433.20,301.36 L433.40,301.77 L433.60,302.17 L433.80,302.56 L434.00,302.94 L434.20,303.30 L434.40,303.66 L434.60,304.01 L434.80,304.35 L435.00,304.68 L435.20,305.00 L435.40,305.31 L435.60,305.62 L435.80,305.91 L436.00,306.20 L436.20,306.49 L436.40,306.76 L436.60,307.03 L436.80,307.29 L437.00,307.55 L437.20,307.80 L437.40,308.04 L437.60,308.28 L437.80,308.51 L438.00,308.74 L438.20,308.96 L438.40,309.17 L438.60,309.39 L438.80,309.59 L439.00,309.79 L439.20,309.99 L439.40,310.18 L439.60,310.37 L439.80,310.55 L440.00,310.73 L440.20,310.91 L440.40,311.08 L440.60,311.25 L440.80,311.42 L441.00,311.58 L441.20,311.74 L441.40,311.89 L441.60,312.04 L441.80,312.19 L442.00,312.34 L442.20,312.48 L442.40,312.62 L442.60,312.76 L442.80,312.89 L443.00,313.02 L443.20,313.15 L443.40,313.28 L443.60,313.40 L443.80,313.52 L444.00,313.64 L444.20,313.76 L444.40,313.87 L444.60,313.98 L444.80,314.09 L445.00,314.20 L446.00,314.71 L447.00,315.18 L448.00,315.60 L449.00,316.00 L450.00,316.36 L451.00,316.69 L452.00,316.99 L453.00,317.28 L454.00,317.54 L455.00,317.78 L456.00,318.01 L457.00,318.22 L458.00,318.42 L459.00,318.60 L460.00,318.78 L461.00,318.94 L462.00,319.09 L463.00,319.23 L464.00,319.37 L465.00,319.49 L466.00,319.61 L467.00,319.72 L468.00,319.83 L469.00,319.93 L470.00,320.03 L471.00,320.12 L472.00,320.20 L473.00,320.28 L474.00,320.36 L475.00,320.43 L476.00,320.50 L477.00,320.57 L478.00,320.63 L479.00,320.70 L480.00,320.75 L481.00,320.81 L482.00,320.86 L483.00,320.91 L484.00,320.96 L485.00,321.01 L486.00,321.05 L487.00,321.10 L488.00,321.14 L489.00,321.18 L490.00,321.21 L491.00,321.25 L492.00,321.28 L493.00,321.32 L494.00,321.35 L495.00,321.38 L496.00,321.41 L497.00,321.44 L498.00,321.47 L499.00,321.50 L500.00,321.52 L501.00,321.55 L502.00,321.57 L503.00,321.60 L504.00,321.62 L505.00,321.64 L505.50,321.65" stroke="#0000ff" stroke-width="2.5" stroke-dasharray="3.8 2.1" stroke-dashoffset="5.82"/>
</g>
<path d="M86.94,358.50V353.70 M108.93,358.50V353.70 M130.92,358.50V353.70 M152.91,358.50V353.70 M174.90,358.50V351.10 M196.89,358.50V353.70 M218.88,358.50V353.70 M240.87,358.50V353.70 M262.86,358.50V353.70 M284.85,358.50V351.10 M306.84,358.50V353.70 M328.83,358.50V353.70 M350.82,358.50V353.70 M372.81,358.50V353.70 M394.80,358.50V351.10 M416.79,358.50V353.70 M438.78,358.50V353.70 M460.77,358.50V353.70 M482.76,358.50V353.70 M63.30,340.38H68.10 M63.30,323.30H70.90 M63.30,306.22H68.10 M63.30,289.14H68.10 M63.30,272.06H68.10 M63.30,254.98H70.90 M63.30,237.90H68.10 M63.30,220.82H68.10 M63.30,203.74H68.10 M63.30,186.66H70.90 M63.30,169.58H68.10 M63.30,152.50H68.10 M63.30,135.42H68.10 M63.30,118.34H70.90 M63.30,101.26H68.10 M63.30,84.18H68.10 M63.30,67.10H68.10 M63.30,50.02H70.90 M63.30,32.94H68.10" stroke="#000" stroke-width="1.2" fill="none"/>
<rect x="63.3" y="14.8" width="442.20" height="343.70" fill="none" stroke="#000" stroke-width="2.3" stroke-linejoin="round" rx="1.6"/>
<g font-family="Liberation Sans, Arial, Helvetica, sans-serif" font-weight="bold" stroke="#000" stroke-width="0.4" font-size="20.5" fill="#000">
<text x="56.2" y="330.80" text-anchor="end">0</text><text x="56.2" y="262.48" text-anchor="end">0.2</text><text x="56.2" y="194.16" text-anchor="end">0.4</text><text x="56.2" y="125.84" text-anchor="end">0.6</text><text x="56.2" y="57.52" text-anchor="end">0.8</text>
<text x="64.40" y="381.3" text-anchor="middle">11</text><text x="175.30" y="381.3" text-anchor="middle">12</text><text x="284.20" y="381.3" text-anchor="middle">13</text><text x="394.40" y="381.3" text-anchor="middle">14</text><text x="503.80" y="381.3" text-anchor="middle">15</text>
<text x="282.8" y="398.6" text-anchor="middle" font-size="19.8">λ (μm)</text>
<text transform="translate(22.9,185.6) rotate(-90)" text-anchor="middle" font-size="19.85">Extinction Cross Section (μm<tspan font-size="12.6" dy="-6.6">2</tspan><tspan dy="6.6">)</tspan></text>
</g>
<g fill="none">
<path d="M97,55.7H112.3" stroke="#000" stroke-width="2.2"/>
<path d="M97.8,76.1H111.6" stroke="#ff2040" stroke-width="1.8" stroke-dasharray="5.9 2.0"/>
<path d="M97.1,96.9H112.8" stroke="#0000ff" stroke-width="2.3" stroke-dasharray="3.9 2.0"/>
</g>
<g font-family="Liberation Sans, Arial, Helvetica, sans-serif" font-weight="bold" stroke="#000" stroke-width="0.4" font-size="19.8" fill="#000">
<text x="118.5" y="61">ECS (NP1+NP2)</text>
<text x="118.5" y="81.4">ECS (NP1)</text>
<text x="118.5" y="101.8">ECS (NP2)</text>
</g>
</svg>
</body></html>
